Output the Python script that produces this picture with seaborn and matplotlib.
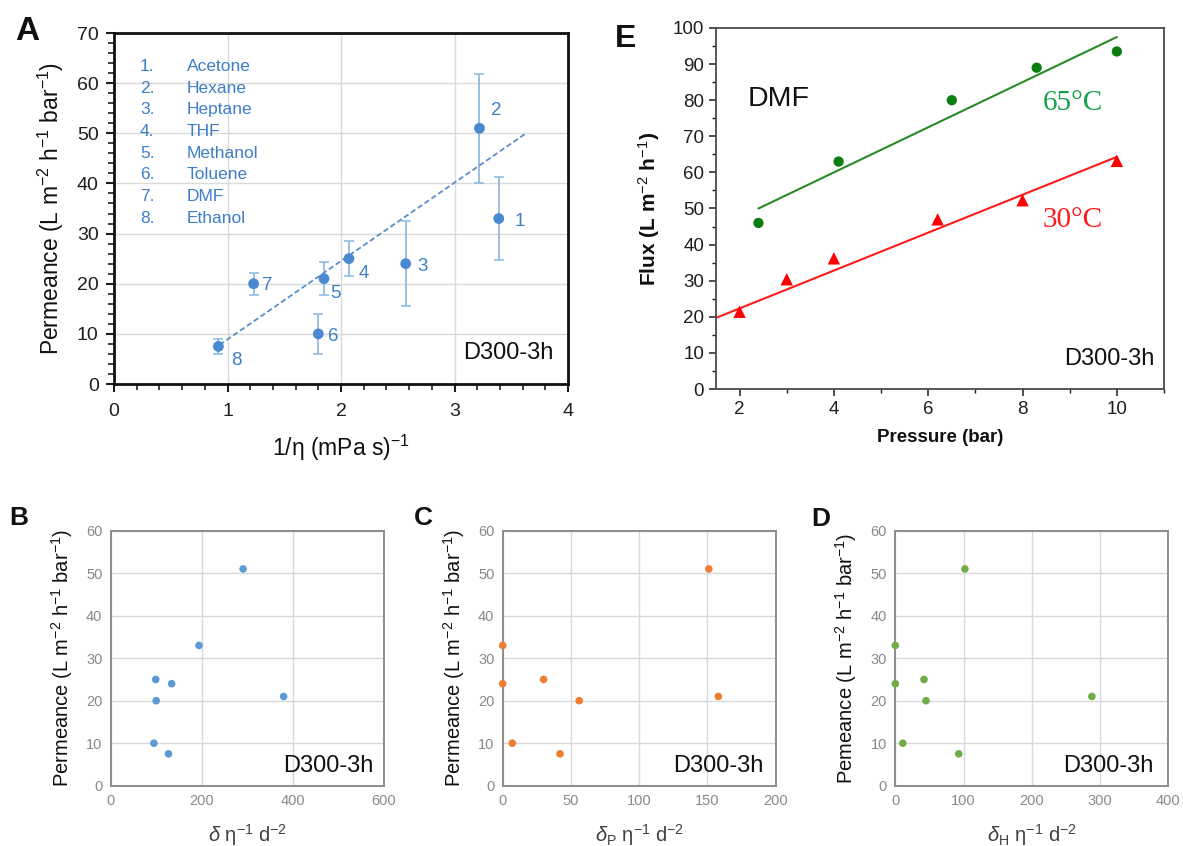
import numpy as np
import pandas as pd
import matplotlib
matplotlib.use("Agg")
import matplotlib.pyplot as plt
import seaborn as sns
from matplotlib.ticker import MultipleLocator

sns.set_theme(style="white")
plt.rcParams["font.family"] = ["Liberation Sans", "DejaVu Sans"]
plt.rcParams["mathtext.fontset"] = "custom"
plt.rcParams["mathtext.rm"] = "Liberation Sans"
plt.rcParams["mathtext.it"] = "Liberation Sans:italic"
plt.rcParams["mathtext.bf"] = "Liberation Sans:bold"

# ---------------- data ----------------
solvents = ["Acetone", "Hexane", "Heptane", "THF", "Methanol", "Toluene", "DMF", "Ethanol"]
solvent_ids = ["1", "2", "3", "4", "5", "6", "7", "8"]
inv_viscosity = [3.39, 3.22, 2.57, 2.07, 1.85, 1.80, 1.23, 0.92]
permeance = [33, 51, 24, 25, 21, 10, 20, 7.5]
permeance_err = [8.3, 10.9, 8.5, 3.5, 3.3, 4.0, 2.2, 1.5]
trend_x = [0.93, 3.63]
trend_y = [7.8, 50.0]

delta_total = [194, 291, 134, 99, 380, 95, 100, 127]
delta_p = [0, 151, 0, 30, 158, 7, 56, 42]
delta_h = [0, 102, 0, 42, 288, 11, 45, 93]

pressure_65 = [2.4, 4.1, 6.5, 8.3, 10]
flux_65 = [46, 63, 80, 89, 93.5]
pressure_30 = [2, 3, 4, 6.2, 8, 10]
flux_30 = [21.4, 30.4, 36.2, 47, 52.3, 63.2]
fit65_x = [2.4, 10]
fit65_y = [50.0, 97.5]
fit30_x = [1.5, 10]
fit30_y = [19.7, 64.3]

# label offsets for the numbered points (points)
id_offsets = [(15, -2), (12, 13), (12, -2), (11, -11), (8, -11), (11, -2), (10, -1), (13, -10)]

W, H = 1183, 846
fig = plt.figure(figsize=(W / 100, H / 100), dpi=100)


def px_axes(left, top, right, bottom):
    return fig.add_axes([left / W, 1 - bottom / H, (right - left) / W, (bottom - top) / H])


blue = "#4a89cf"
blue_txt = "#3f7fc8"

# ---------------- panel A ----------------
axA = px_axes(114, 33, 568, 384)
dfA = pd.DataFrame({"x": inv_viscosity, "y": permeance, "err": permeance_err, "id": solvent_ids})
axA.errorbar(dfA["x"], dfA["y"], yerr=dfA["err"], fmt="none", ecolor="#92bbe3",
             elinewidth=1.3, capsize=3.5, capthick=1.2, zorder=2)
sns.lineplot(x=trend_x, y=trend_y, ax=axA, color="#5a8fca", lw=1.3,
             linestyle=(0, (3, 1.6)), zorder=3)
sns.scatterplot(data=dfA, x="x", y="y", ax=axA, color=blue, s=60, edgecolor="none", zorder=4)
for x, y, t, off in zip(inv_viscosity, permeance, solvent_ids, id_offsets):
    axA.annotate(t, (x, y), xytext=off, textcoords="offset points", color=blue_txt,
                 fontsize=13.5, va="center", ha="center")
axA.set_xlim(0, 4)
axA.set_ylim(0, 70)
axA.xaxis.set_major_locator(MultipleLocator(1))
axA.xaxis.set_minor_locator(MultipleLocator(0.2))
axA.yaxis.set_major_locator(MultipleLocator(10))
axA.yaxis.set_minor_locator(MultipleLocator(2))
axA.grid(True, which="major", color="#dadada", lw=1)
axA.tick_params(which="major", direction="out", length=6, width=1.5, labelsize=14,
                colors="#1e1e1e", left=True, bottom=True)
axA.tick_params(axis="x", which="major", pad=8)
axA.tick_params(axis="y", which="major", pad=5)
axA.tick_params(which="minor", direction="out", length=4, width=1.2, left=True, bottom=True,
                colors="#1e1e1e")
for s in axA.spines.values():
    s.set_color("#111111")
    s.set_linewidth(2)
axA.set_xlabel("1/η (mPa s)$^{-1}$", fontsize=16.5, color="#111111", labelpad=9)
axA.set_ylabel("Permeance (L m$^{-2}$ h$^{-1}$ bar$^{-1}$)", fontsize=16.5, color="#111111", labelpad=8)
for i, (num, name) in enumerate(zip(solvent_ids, solvents)):
    yy = 0.905 - i * 0.0618
    axA.text(0.057, yy, num + ".", transform=axA.transAxes, color=blue_txt, fontsize=12.5, va="center")
    axA.text(0.161, yy, name, transform=axA.transAxes, color=blue_txt, fontsize=12.5, va="center")
axA.text(0.968, 0.07, "D300-3h", transform=axA.transAxes, ha="right", va="baseline",
         fontsize=17, color="#111111")

# ---------------- panel E ----------------
axE = px_axes(716, 28, 1164, 389)
sns.lineplot(x=fit65_x, y=fit65_y, ax=axE, color="#2a8a2a", lw=1.5)
sns.lineplot(x=fit30_x, y=fit30_y, ax=axE, color="#ff1a1a", lw=1.5)
sns.scatterplot(x=pressure_65, y=flux_65, ax=axE, color="#0b7d12", marker="o", s=55,
                edgecolor="none", zorder=4)
sns.scatterplot(x=pressure_30, y=flux_30, ax=axE, color="#ff0000", marker="^", s=80,
                edgecolor="none", zorder=4)
axE.set_xlim(1.5, 11)
axE.set_ylim(0, 100)
axE.xaxis.set_major_locator(MultipleLocator(2))
axE.xaxis.set_minor_locator(MultipleLocator(1))
axE.yaxis.set_major_locator(MultipleLocator(10))
axE.yaxis.set_minor_locator(MultipleLocator(5))
axE.tick_params(which="major", direction="out", length=5, width=1.1, labelsize=13.5,
                colors="#1e1e1e", left=True, bottom=True)
axE.tick_params(which="minor", direction="out", length=3, width=1.0, left=True, bottom=True,
                colors="#1e1e1e")
for s in axE.spines.values():
    s.set_color("#4a4a4a")
    s.set_linewidth(1.3)
axE.set_xlabel("Pressure (bar)", fontsize=13.5, fontweight="bold", color="#111111", labelpad=8)
axE.set_ylabel("Flux (L m$^{-2}$ h$^{-1}$)", fontsize=15, fontweight="bold", color="#111111",
               labelpad=8)
axE.text(0.071, 0.783, "DMF", transform=axE.transAxes, fontsize=20.5, color="#111111", va="baseline")
axE.text(0.729, 0.772, "65°C", transform=axE.transAxes, fontsize=21, color="#16a04b",
         family=["Liberation Serif", "DejaVu Serif"], va="baseline")
axE.text(0.729, 0.4475, "30°C", transform=axE.transAxes, fontsize=21, color="#ff1a1a",
         family=["Liberation Serif", "DejaVu Serif"], va="baseline")
axE.text(0.979, 0.066, "D300-3h", transform=axE.transAxes, ha="right", va="baseline",
         fontsize=17, color="#111111")

# ---------------- panels B, C, D ----------------
small_panels = [
    (110.7, delta_total, "#5b9bd5", 600, 200, r"$\delta$ η$^{-1}$ d$^{-2}$",
     "Permeance (L m$^{-2}$ h$^{-1}$ bar$^{-1}$)", 0.963),
    (502.7, delta_p, "#ed7d31", 200, 50, r"$\delta_{\mathrm{P}}$ η$^{-1}$ d$^{-2}$",
     "Permeance (L m$^{-2}$ h$^{-1}$ bar$^{-1}$)", 0.955),
    (895.3, delta_h, "#70ad47", 400, 100, r"$\delta_{\mathrm{H}}$ η$^{-1}$ d$^{-2}$",
     "Pemeance (L m$^{-2}$ h$^{-1}$ bar$^{-1}$)", 0.945),
]
for left, xs, col, xmax, xstep, xl, yl, tx in small_panels:
    ax = px_axes(left, 530.7, left + 273, 785.7)
    sns.scatterplot(x=xs, y=permeance, ax=ax, color=col, s=30, edgecolor="none",
                    zorder=4, clip_on=False)
    ax.set_xlim(0, xmax)
    ax.set_ylim(0, 60)
    ax.xaxis.set_major_locator(MultipleLocator(xstep))
    ax.yaxis.set_major_locator(MultipleLocator(10))
    ax.grid(True, color="#d9d9d9", lw=1)
    ax.tick_params(length=0, labelsize=10.5, colors="#8a8a8a", pad=6)
    for s in ax.spines.values():
        s.set_color("#8c8c8c")
        s.set_linewidth(1.4)
    ax.set_xlabel(xl, fontsize=14.5, color="#404040", labelpad=10)
    ax.set_ylabel(yl, fontsize=14.5, color="#111111", labelpad=8)
    ax.text(tx, 0.053, "D300-3h", transform=ax.transAxes, ha="right", va="baseline",
            fontsize=17, color="#111111")

# ---------------- panel letters ----------------
for lbl, x, y, fs in [("A", 15, 40, 24), ("E", 615, 46.7, 23), ("B", 9, 525, 19),
                      ("C", 414, 525, 19), ("D", 811, 526, 19)]:
    fig.text(x / W, 1 - y / H, lbl, fontsize=fs, fontweight="bold", color="#111111",
             va="baseline", ha="left")

fig.savefig("out.png", dpi=100, facecolor="white")
